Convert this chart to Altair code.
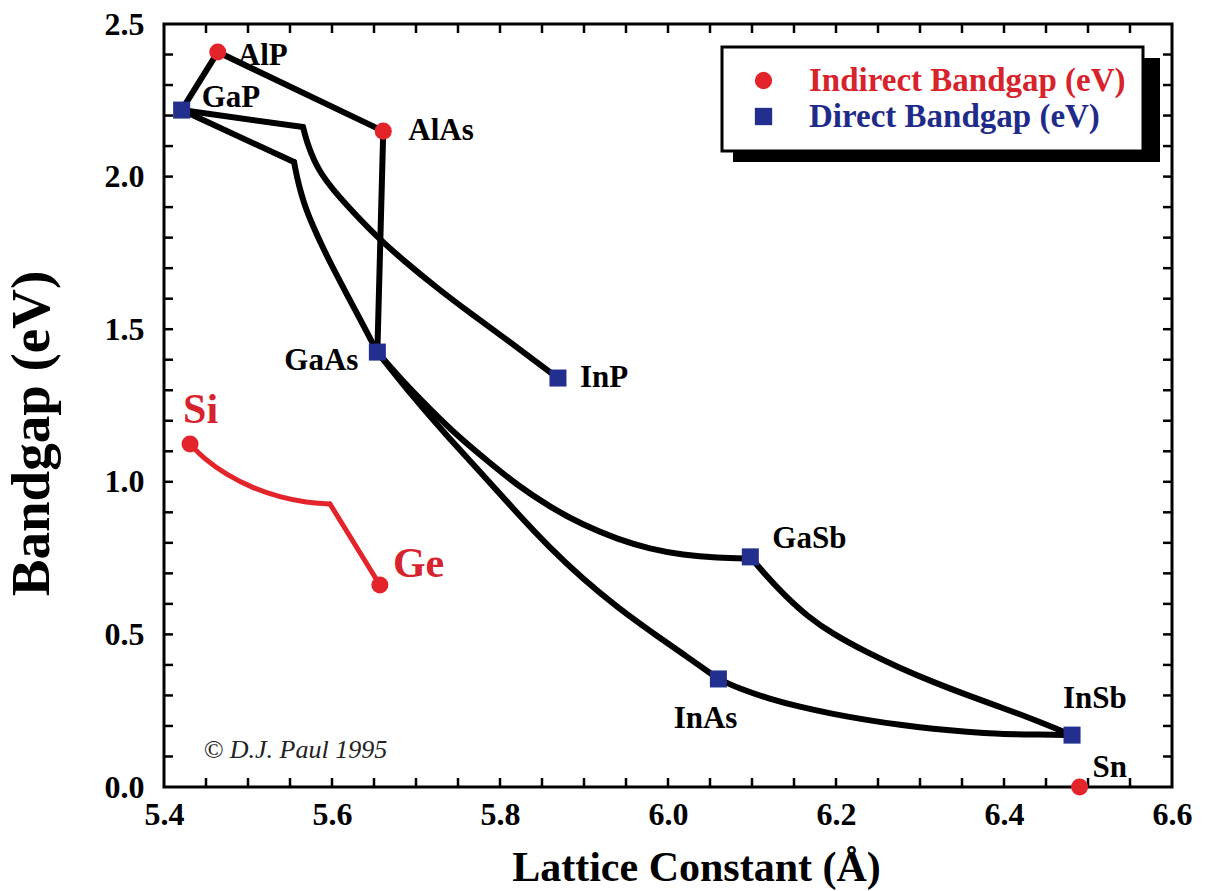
import altair as alt
import pandas as pd

# ------------------------------------------------------------------ data
COMPOUNDS = ["AlP", "GaP", "AlAs", "GaAs", "InP", "GaSb", "InAs", "InSb", "Sn", "Si", "Ge"]
LATTICE = [5.464, 5.421, 5.661, 5.654, 5.869, 6.098, 6.060, 6.481, 6.490, 5.431, 5.657]
BANDGAP = [2.408, 2.218, 2.149, 1.425, 1.340, 0.754, 0.354, 0.170, 0.000, 1.124, 0.662]
GAP_TYPE = ["Indirect", "Direct", "Indirect", "Direct", "Direct", "Direct",
            "Direct", "Direct", "Indirect", "Indirect", "Indirect"]
LEGEND_NAMES = {"Indirect": "Indirect Bandgap (eV)", "Direct": "Direct Bandgap (eV)"}

# straight alloy segments (lattice, bandgap)
ALP_GAP_X, ALP_GAP_Y = [5.464, 5.421], [2.408, 2.218]
ALP_ALAS_X, ALP_ALAS_Y = [5.464, 5.661], [2.408, 2.149]
ALAS_GAAS_X, ALAS_GAAS_Y = [5.661, 5.654], [2.149, 1.425]
GAP_K1_X, GAP_K1_Y = [5.421, 5.5655], [2.218, 2.1625]
GAP_K2_X, GAP_K2_Y = [5.421, 5.5548], [2.218, 2.0478]
SIGE_K_X, SIGE_K_Y = [5.5976, 5.657], [0.9273, 0.662]

# curved alloy segments
GAINP_X = [5.5655, 5.5679, 5.5726, 5.5786, 5.5857, 5.6012, 5.625, 5.6536, 5.6845, 5.725, 5.7643, 5.8119, 5.869]
GAINP_Y = [2.1625, 2.1363, 2.0937, 2.0544, 2.0151, 1.9561, 1.884, 1.8021, 1.7267, 1.635, 1.5531, 1.458, 1.340]
GAASP_X = [5.5548, 5.5583, 5.5631, 5.569, 5.5774, 5.5881, 5.6012, 5.6167, 5.6333, 5.654]
GAASP_Y = [2.0478, 1.998, 1.946, 1.8938, 1.8382, 1.7726, 1.7005, 1.6186, 1.5334, 1.425]
GAASSB_X = [5.654, 5.681, 5.7048, 5.7286, 5.7524, 5.7881, 5.8202, 5.8595, 5.8988, 5.9393, 5.9786, 6.0179, 6.0583, 6.098]
GAASSB_Y = [1.425, 1.340, 1.2713, 1.2058, 1.1435, 1.0616, 0.9895, 0.9174, 0.8585, 0.8126, 0.7798, 0.7601, 0.7503, 0.7487]
GAINAS_X = [5.654, 5.6964, 5.7381, 5.7798, 5.8202, 5.8595, 5.8988, 5.9393, 5.9786, 6.0179, 6.060]
GAINAS_Y = [1.425, 1.2779, 1.1468, 1.0223, 0.8977, 0.7831, 0.6815, 0.5898, 0.5111, 0.4358, 0.354]
GAINSB_X = [6.098, 6.1171, 6.1373, 6.1667, 6.1964, 6.2357, 6.2762, 6.3155, 6.3560, 6.3952, 6.4345, 6.481]
GAINSB_Y = [0.754, 0.6914, 0.6324, 0.557, 0.5013, 0.4423, 0.3899, 0.3440, 0.3014, 0.2621, 0.2228, 0.170]
INASSB_X = [6.060, 6.0857, 6.1179, 6.1571, 6.1964, 6.2369, 6.2762, 6.3155, 6.3560, 6.3952, 6.4345, 6.481]
INASSB_Y = [0.354, 0.3211, 0.2916, 0.2621, 0.2392, 0.2195, 0.2031, 0.1900, 0.1802, 0.1737, 0.1720, 0.170]
SIGE_X = [5.431, 5.4468, 5.4746, 5.5063, 5.5381, 5.5699, 5.5976]
SIGE_Y = [1.124, 1.077, 1.0223, 0.9787, 0.9492, 0.9315, 0.9273]

X_DOMAIN = [5.4, 6.6]
Y_DOMAIN = [0.0, 2.5]
X_LABELS = [5.4, 5.6, 5.8, 6.0, 6.2, 6.4, 6.6]
Y_LABELS = [0.0, 0.5, 1.0, 1.5, 2.0, 2.5]
X_TICKS = [round(5.4 + 0.05 * i, 2) for i in range(1, 24)]
Y_TICKS = [round(0.1 * i, 1) for i in range(1, 25)]

COPYRIGHT = "© D.J. Paul 1995"
COPYRIGHT_AT = (5.447, 0.095)

# ------------------------------------------------------------------ styles
SERIF = "Liberation Serif"
RED, BLUE, RED_TXT, BLUE_TXT = "#e3242b", "#232f8e", "#d7232b", "#1f2b8a"
W, H = 1008, 763
TICK = 9

# label offsets (dx, dy, align, font size, colour)
LABEL_STYLE = {
    "AlP": (20, 13, "left", 31, "black"),
    "GaP": (20, -3, "left", 31, "black"),
    "AlAs": (25, 9, "left", 31, "black"),
    "GaAs": (-19, 18, "right", 31, "black"),
    "InP": (22, 9, "left", 31, "black"),
    "GaSb": (22, -9, "left", 31, "black"),
    "InAs": (19, 49, "right", 31, "black"),
    "InSb": (-9, -27, "left", 31, "black"),
    "Sn": (13, -10, "left", 31, "black"),
    "Si": (-7, -21, "left", 42, RED_TXT),
    "Ge": (13, -8, "left", 42, RED_TXT),
}

# ------------------------------------------------------------------ tables
pts = pd.DataFrame({"name": COMPOUNDS, "lx": LATTICE, "eg": BANDGAP,
                    "kind": [LEGEND_NAMES[t] for t in GAP_TYPE]})


def series_table(series):
    rows = []
    for sid, (xs_, ys_) in enumerate(series):
        for i, (a, b) in enumerate(zip(xs_, ys_)):
            rows.append({"sid": sid, "i": i, "lx": a, "eg": b})
    return pd.DataFrame(rows)


black_straight = series_table([(ALP_GAP_X, ALP_GAP_Y), (ALP_ALAS_X, ALP_ALAS_Y),
                               (ALAS_GAAS_X, ALAS_GAAS_Y), (GAP_K1_X, GAP_K1_Y),
                               (GAP_K2_X, GAP_K2_Y)])
black_curved = series_table([(GAINP_X, GAINP_Y), (GAASP_X, GAASP_Y), (GAASSB_X, GAASSB_Y),
                             (GAINAS_X, GAINAS_Y), (GAINSB_X, GAINSB_Y), (INASSB_X, INASSB_Y)])
red_straight = series_table([(SIGE_K_X, SIGE_K_Y)])
red_curved = series_table([(SIGE_X, SIGE_Y)])

xsc = alt.Scale(domain=X_DOMAIN, nice=False, zero=False)
ysc = alt.Scale(domain=Y_DOMAIN, nice=False, zero=False)
x_axis = alt.Axis(values=X_LABELS, format=".1f", ticks=False, domain=False, grid=False,
                  labelFlush=False, labelPadding=12, labelFont=SERIF, labelFontSize=32,
                  labelFontWeight="bold", labelColor="black",
                  title="Lattice Constant (Å)", titleFont=SERIF, titleFontSize=42,
                  titleFontWeight="bold", titleColor="black", titleX=532, titleY=93,
                  titleBaseline="alphabetic")
y_axis = alt.Axis(values=Y_LABELS, format=".1f", ticks=False, domain=False, grid=False,
                  labelPadding=20, labelFont=SERIF, labelFontSize=32,
                  labelFontWeight="bold", labelColor="black",
                  title="Bandgap (eV)", titleFont=SERIF, titleFontSize=55,
                  titleFontWeight="bold", titleColor="black", titleX=-133, titleY=409,
                  titleBaseline="middle")
X = alt.X("lx:Q", scale=xsc, axis=x_axis)
Y = alt.Y("eg:Q", scale=ysc, axis=y_axis)


def lines(df, color, width, interp):
    return alt.Chart(df).mark_line(color=color, strokeWidth=width, interpolate=interp,
                                   strokeCap="round", strokeJoin="round").encode(
        x=X, y=Y, detail="sid:N", order="i:Q")


layers = [
    lines(black_straight, "black", 6, "linear"),
    lines(black_curved, "black", 6, "basis"),
    lines(red_straight, RED, 5, "linear"),
    lines(red_curved, RED, 5, "basis"),
]

# inward ticks on all four sides
xt = pd.DataFrame({"lx": X_TICKS})
yt = pd.DataFrame({"eg": Y_TICKS})
tick_style = dict(color="black", strokeWidth=2.5)
layers += [
    alt.Chart(xt).mark_rule(**tick_style).encode(x=X, y=alt.value(H), y2=alt.value(H - TICK)),
    alt.Chart(xt).mark_rule(**tick_style).encode(x=X, y=alt.value(0), y2=alt.value(TICK)),
    alt.Chart(yt).mark_rule(**tick_style).encode(y=Y, x=alt.value(0), x2=alt.value(TICK)),
    alt.Chart(yt).mark_rule(**tick_style).encode(y=Y, x=alt.value(W), x2=alt.value(W - TICK)),
]

# labels
for name, (dx, dy, align, fs, col) in LABEL_STYLE.items():
    sub = pts[pts["name"] == name]
    layers.append(alt.Chart(sub).mark_text(dx=dx, dy=dy, align=align, baseline="alphabetic",
                                           font=SERIF, fontSize=fs, fontWeight="bold",
                                           color=col).encode(x=X, y=Y, text="name:N"))

cp = pd.DataFrame({"lx": [COPYRIGHT_AT[0]], "eg": [COPYRIGHT_AT[1]], "t": [COPYRIGHT]})
layers.append(alt.Chart(cp).mark_text(align="left", baseline="alphabetic", font=SERIF,
                                      fontSize=26, fontStyle="italic", color="#222222")
              .encode(x=X, y=Y, text="t:N"))

# legend shadow (decoration behind the legend box)
layers.append(alt.Chart(pd.DataFrame({"k": [0]})).mark_rect(color="black").encode(
    x=alt.value(569), x2=alt.value(996), y=alt.value(34), y2=alt.value(138)))

kinds = [LEGEND_NAMES["Indirect"], LEGEND_NAMES["Direct"]]
leg = alt.Legend(title=None, orient="none", legendX=558, legendY=23, fillColor="white",
                 strokeColor="black", padding=17, rowPadding=2, symbolOffset=8,
                 labelOffset=29, symbolSize=300, symbolStrokeWidth=0, labelLimit=500,
                 labelFont=SERIF, labelFontSize=33, labelFontWeight="bold",
                 labelColor={"expr": "datum.value == '%s' ? '%s' : '%s'" % (kinds[0], RED_TXT, BLUE_TXT)})

layers.append(alt.Chart(pts).mark_point(filled=True, size=290, opacity=1, strokeWidth=0).encode(
    x=X, y=Y,
    color=alt.Color("kind:N", scale=alt.Scale(domain=kinds, range=[RED, BLUE]), legend=leg),
    shape=alt.Shape("kind:N", scale=alt.Scale(domain=kinds, range=["circle", "square"]), legend=leg),
))

chart = alt.layer(*layers).properties(
    width=W, height=H,
    padding={"left": 164, "top": 24, "right": 35, "bottom": 104},
    autosize=alt.AutoSizeParams(type="none"),
    background="white",
).configure_view(stroke="black", strokeWidth=3).configure_legend(strokeWidth=3)

chart.save("out.html", embed_options={"renderer": "svg", "actions": False})
